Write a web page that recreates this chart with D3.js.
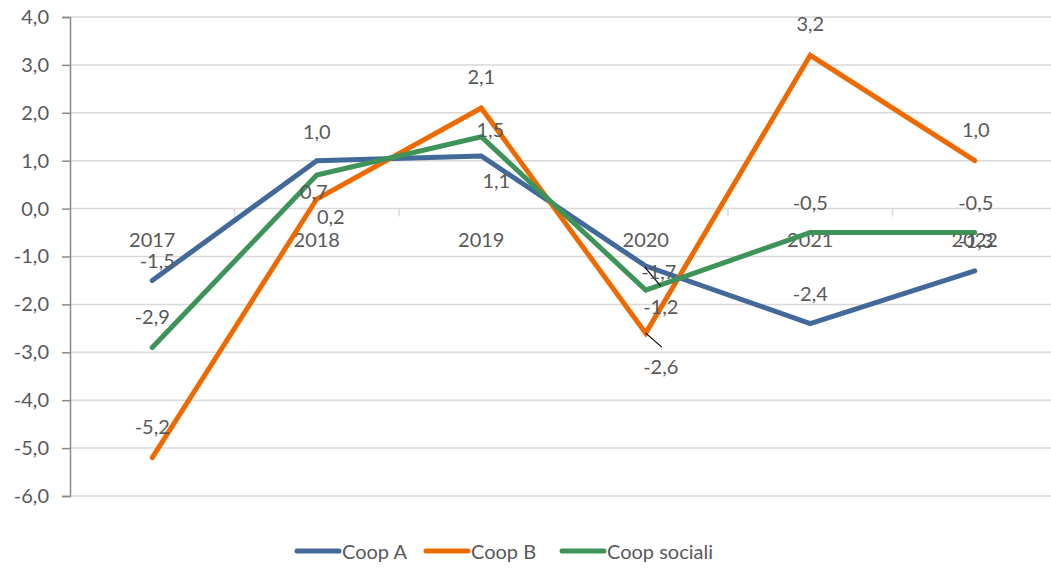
<!DOCTYPE html>
<html>
<head>
<meta charset="utf-8">
<script src="https://cdn.jsdelivr.net/npm/d3@7/dist/d3.min.js"></script>
<style>
  html, body { margin: 0; padding: 0; background: #fff; }
  svg text { font-family: Lato, "Open Sans", sans-serif; fill: #595959; }
</style>
</head>
<body>
<svg id="chart" width="1051" height="569"></svg>
<script>
// ---- data ----
const years = ["2017", "2018", "2019", "2020", "2021", "2022"];
const coopA = [-1.5, 1.0, 1.1, -1.2, -2.4, -1.3];
const coopB = [-5.2, 0.2, 2.1, -2.6, 3.2, 1.0];
const coopSociali = [-2.9, 0.7, 1.5, -1.7, -0.5, -0.5];
const seriesNames = ["Coop A", "Coop B", "Coop sociali"];
const yTicks = [4, 3, 2, 1, 0, -1, -2, -3, -4, -5, -6];

// ---- presentation (label offsets from points, per series / year) ----
const colors = ["#43699B", "#EE6A00", "#3E9358"];
const labelOffsets = [
  [[5, -20], [0, -30], [15, 24], [15, 40], [0, -31], [1, -31]],
  [[0, -32], [14, 17], [0, -32], [15, 33], [0, -32], [1, -32]],
  [[0, -32], [-3, 16], [9, -8], [13, -19], [0, -31], [1, -31]]
];
// leader lines: [series, yearIndex, start dx, start dy, end dx, end dy]
const leaders = [[2, 3, -1, -23, 15, -4], [1, 3, 0, 0, 16, 14]];

const svg = d3.select("#chart");
const x = d3.scaleBand().domain(years).range([70, 1057]);
const y = d3.scaleLinear().domain([-6, 4]).range([496, 17]);
const cx = d => x(d) + x.bandwidth() / 2;
const fmt = d => d3.format(".1f")(d).replace(".", ",").replace("−", "-");
const FS = "20px";

// gridlines
svg.append("g").selectAll("line").data(yTicks).join("line")
  .attr("x1", 70).attr("x2", 1051)
  .attr("y1", d => y(d)).attr("y2", d => y(d))
  .attr("stroke", "#d9d9d9").attr("stroke-width", 1.5);

// y axis
const yAxis = d3.axisLeft(y).tickValues(yTicks).tickSize(8).tickPadding(13).tickFormat(fmt);
const ga = svg.append("g").attr("transform", "translate(70,0)").call(yAxis);
ga.select(".domain").attr("stroke", "#898989").attr("stroke-width", 1.5);
ga.selectAll(".tick line").attr("stroke", "#898989").attr("stroke-width", 1.5);
ga.selectAll(".tick text").style("font-size", FS).attr("fill", "#595959");

// x axis at zero
const xAxis = d3.axisBottom(x).tickSize(0).tickPadding(24);
const gx = svg.append("g").attr("transform", `translate(0,${y(0)})`).call(xAxis);
gx.select(".domain").remove();
gx.selectAll(".tick text").style("font-size", FS).attr("fill", "#595959");
// category separators
svg.append("g").selectAll("line").data(years.slice(1)).join("line")
  .attr("x1", d => x(d)).attr("x2", d => x(d))
  .attr("y1", y(0)).attr("y2", y(0) + 8)
  .attr("stroke", "#d9d9d9").attr("stroke-width", 1.5);

const allSeries = [coopA, coopB, coopSociali];
const line = d3.line().x((d, i) => cx(years[i])).y(d => y(d));

allSeries.forEach((s, k) => {
  svg.append("path").datum(s).attr("d", line)
    .attr("fill", "none").attr("stroke", colors[k]).attr("stroke-width", 5)
    .attr("stroke-linecap", "round").attr("stroke-linejoin", "miter");
});

// leader lines
leaders.forEach(([k, i, sx, sy, ex, ey]) => {
  const px = cx(years[i]), py = y(allSeries[k][i]);
  svg.append("line").attr("x1", px + sx).attr("y1", py + sy)
    .attr("x2", px + ex).attr("y2", py + ey)
    .attr("stroke", "#000").attr("stroke-width", 1.2);
});

// data labels
allSeries.forEach((s, k) => {
  svg.append("g").selectAll("text").data(s).join("text")
    .attr("x", (d, i) => cx(years[i]) + labelOffsets[k][i][0])
    .attr("y", (d, i) => y(d) + labelOffsets[k][i][1])
    .attr("text-anchor", "middle").attr("dominant-baseline", "central")
    .style("font-size", FS)
    .text(fmt);
});

// legend
const legendX = [297, 426, 562];
const lg = svg.append("g");
seriesNames.forEach((n, k) => {
  lg.append("line").attr("x1", legendX[k]).attr("x2", legendX[k] + 42)
    .attr("y1", 551).attr("y2", 551)
    .attr("stroke", colors[k]).attr("stroke-width", 5).attr("stroke-linecap", "round");
  lg.append("text").attr("x", legendX[k] + 45).attr("y", 551)
    .attr("dominant-baseline", "central").style("font-size", FS).text(n);
});
</script>
</body>
</html>
